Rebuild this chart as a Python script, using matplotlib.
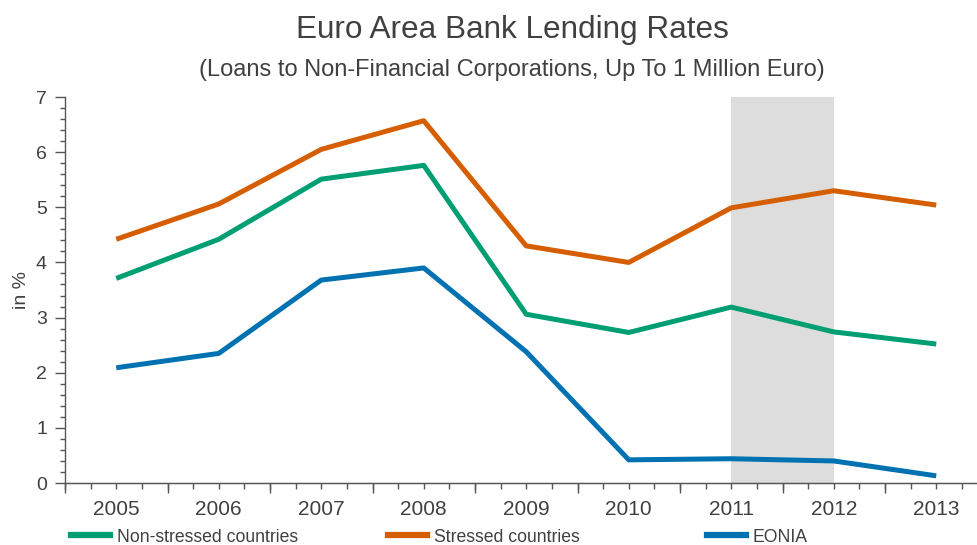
import numpy as np
import matplotlib
matplotlib.use("Agg")
from matplotlib import pyplot as plt
from matplotlib.lines import Line2D

years = ["2005", "2006", "2007", "2008", "2009", "2010", "2011", "2012", "2013"]
non_stressed = [3.71, 4.42, 5.51, 5.76, 3.06, 2.73, 3.19, 2.74, 2.52]
stressed = [4.42, 5.06, 6.05, 6.57, 4.30, 4.00, 4.99, 5.30, 5.04]
eonia = [2.09, 2.35, 3.68, 3.90, 2.38, 0.42, 0.44, 0.40, 0.13]
shade_from, shade_to = "2011", "2012"

green = "#009E73"
orange = "#D55E00"
blue = "#0072B2"
textcol = "#404040"

plt.rcParams["font.family"] = ["Liberation Sans", "DejaVu Sans"]

fig = plt.figure(figsize=(9.77, 5.45), dpi=100)
# axes right edge runs slightly past the figure, like the original
ax = fig.add_axes([65 / 977, 62 / 545, 922.5 / 977, 386 / 545])

x = np.arange(len(years))
ax.axvspan(years.index(shade_from), years.index(shade_to), color="#DDDDDD", lw=0, zorder=0)

ax.plot(x, non_stressed, color=green, lw=3.6, solid_capstyle="butt", label="Non-stressed countries")
ax.plot(x, stressed, color=orange, lw=3.6, solid_capstyle="butt", label="Stressed countries")
ax.plot(x, eonia, color=blue, lw=3.6, solid_capstyle="butt", label="EONIA")

ax.set_xlim(-0.5, len(years) - 0.5)
ax.set_ylim(0, 7)

# spines
for s in ["top", "right"]:
    ax.spines[s].set_visible(False)
for s in ["left", "bottom"]:
    ax.spines[s].set_color("#555555")
    ax.spines[s].set_linewidth(1.0)

# y ticks
ax.set_yticks(range(8))
ax.set_yticks(np.arange(0, 7.01, 0.2), minor=True)
ax.tick_params(axis="y", which="major", direction="out", length=7, width=1, color="#555555",
               labelsize=14, labelcolor=textcol, pad=6)
ax.tick_params(axis="y", which="minor", direction="out", length=3.5, width=1, color="#555555")
ax.set_ylabel("in %", fontsize=14, color=textcol, labelpad=4)

# x ticks: labels at the centres, quarter ticks, longer ones at category edges
ax.set_xticks(x)
ax.set_xticklabels(years)
ax.set_xticks(np.arange(-0.5, len(years) - 0.49, 0.25), minor=True)
ax.tick_params(axis="x", which="major", direction="out", length=4, width=1, color="#555555",
               labelsize=15, labelcolor=textcol, pad=8)
ax.tick_params(axis="x", which="minor", direction="out", length=4, width=1, color="#555555")
sec = ax.secondary_xaxis("bottom")
sec.set_xticks(np.arange(-0.5, len(years), 1.0))
sec.tick_params(axis="x", direction="out", length=7, width=1, color="#555555", labelbottom=False)
sec.spines["bottom"].set_color("#555555")

fig.text(512 / 977, 1 - 30 / 545, "Euro Area Bank Lending Rates", ha="center", va="center",
         fontsize=22.7, color=textcol)
fig.text(512 / 977, 1 - 70 / 545, "(Loans to Non-Financial Corporations, Up To 1 Million Euro)",
         ha="center", va="center", fontsize=17, color=textcol)

# legend, one entry per slot along the bottom
handles, labels = ax.get_legend_handles_labels()
for h, lab, xpos in zip(handles, labels, [71, 388, 707]):
    lg = fig.legend([Line2D([], [], color=h.get_color(), lw=4.5)], [lab], loc="center left",
                    bbox_to_anchor=(xpos / 977, 8 / 545), frameon=False, borderpad=0,
                    borderaxespad=0, handlelength=2.2, handletextpad=0.4, fontsize=12.7)
    for t in lg.get_texts():
        t.set_color(textcol)

fig.savefig("out.png", dpi=100)
